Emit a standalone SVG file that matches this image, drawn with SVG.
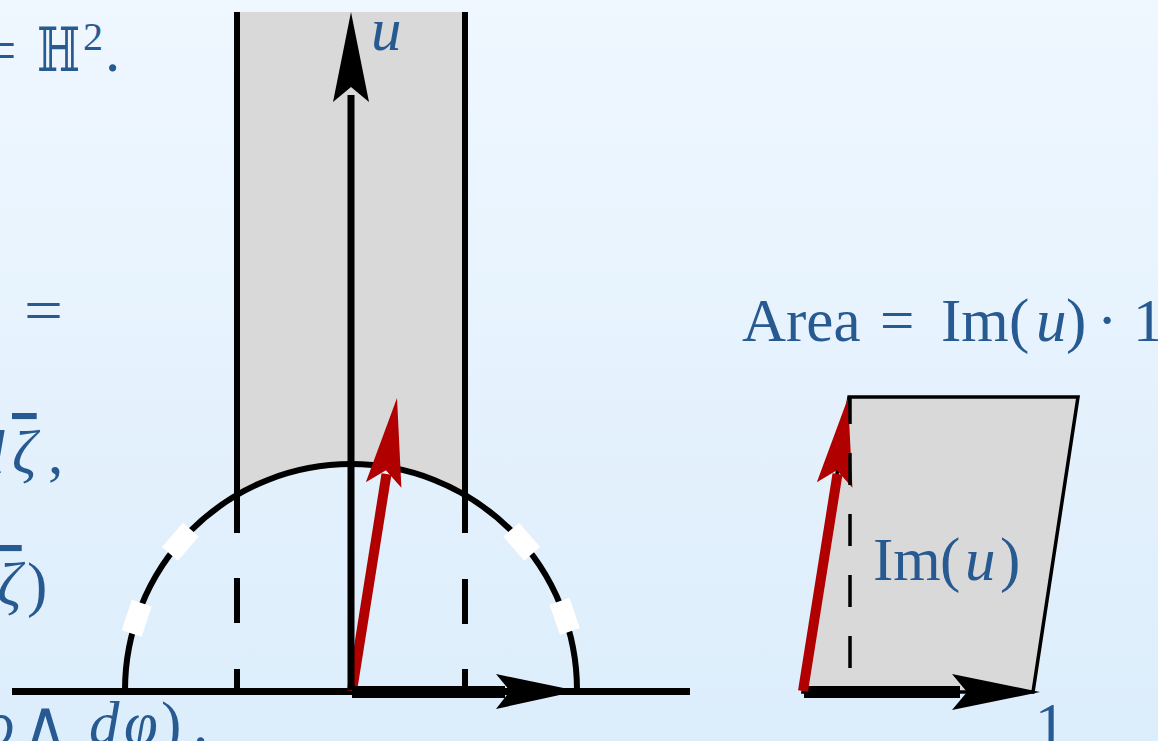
<svg xmlns="http://www.w3.org/2000/svg" width="1158" height="741" viewBox="0 0 1158 741">
<defs>
<linearGradient id="bg" x1="0" y1="0" x2="0" y2="1">
<stop offset="0" stop-color="#eff7ff"/>
<stop offset="1" stop-color="#dcedfb"/>
</linearGradient>
<style>
.t{font-family:"Liberation Serif","DejaVu Serif",serif;font-size:61px;fill:#265a91}
.i{font-style:italic}
.ov{text-decoration:overline}
.blk{stroke:#000;fill:none}
.gap{fill:#fff}
.red{fill:#b00000}
.redl{stroke:#b00000;stroke-width:10;fill:none}
</style>
</defs>
<rect width="1158" height="741" fill="url(#bg)"/>

<g id="left-text">
<text class="t" x="-22" y="71" textLength="39" lengthAdjust="spacingAndGlyphs">=</text>
<text class="t" x="37" y="71" textLength="43" lengthAdjust="spacingAndGlyphs">ℍ</text>
<text class="t" x="83" y="50" style="font-size:40px">2</text>
<text class="t" x="105" y="71">.</text>
<text class="t" x="24" y="331" textLength="39" lengthAdjust="spacingAndGlyphs">=</text>
<text class="t i" x="-26" y="473">d</text>
<text class="t i ov" x="12" y="473">ζ</text>
<text class="t" x="48" y="473">,</text>
<text class="t i ov" x="-3" y="605">ζ</text>
<text class="t" x="27" y="605">)</text>
<text class="t i" x="-15" y="744">ρ</text>
<text class="t" x="23" y="744">∧</text>
<text class="t i" x="89" y="744">d</text>
<text class="t i" x="124" y="744">φ</text>
<text class="t" x="161" y="744">)</text>
<text class="t" x="193" y="744">.</text>
</g>

<g id="strip">
<path d="M237,12 H465 V495 A226,226 0 0 0 237,495 Z" fill="#d9d9d9"/>
<path class="blk" stroke-width="6" d="M237,12 V533 M237,578 V623 M237,669 V690 M465,12 V533 M465,579 V624 M465,669 V690"/>
</g>

<g id="axis">
<path class="blk" stroke-width="7" d="M12,691.5 H690"/>
</g>

<g id="semicircle">
<path class="blk" stroke-width="6" d="M125,690 A226,226 0 0 1 577,690"/>
<rect class="gap" x="-16" y="-10.5" width="32" height="21" transform="translate(180.4,541.7) rotate(-49)"/>
<rect class="gap" x="-16" y="-10.5" width="32" height="21" transform="translate(136.7,618.3) rotate(-71.5)"/>
<rect class="gap" x="-16" y="-10.5" width="32" height="21" transform="translate(521.6,541.7) rotate(49)"/>
<rect class="gap" x="-16" y="-10.5" width="32" height="21" transform="translate(564.7,616.4) rotate(71)"/>
</g>

<g id="red-arrow-left">
<path class="redl" d="M352,691 L386.5,474"/>
<polygon class="red" points="397,398 401.4,487.7 385.9,470.2 365.85,482.25"/>
</g>

<g id="u-arrow">
<path class="blk" stroke-width="7" d="M351,690 V95"/>
<polygon points="351,12 369,102 351,87 333,102" fill="#000"/>
<text class="t i" x="371" y="50">u</text>
</g>

<g id="x-arrow-left">
<path class="blk" stroke-width="12" d="M352,692 H505"/>
<polygon points="578,691 496,674 510,691 496,709" fill="#000"/>
</g>

<g id="area-label">
<text class="t" y="341"><tspan x="742">Area</tspan><tspan x="880">=</tspan><tspan x="941">Im</tspan><tspan x="1009">(</tspan><tspan class="i" x="1036">u</tspan><tspan x="1066">)</tspan><tspan x="1097">·</tspan><tspan x="1133">1</tspan></text>
</g>

<g id="parallelogram">
<polygon points="803,692 849,397 1078,397 1033,692" fill="#d9d9d9" stroke="#000" stroke-width="3.5" stroke-linejoin="miter"/>
<text class="t" y="580"><tspan x="873">Im</tspan><tspan x="940">(</tspan><tspan class="i" x="965">u</tspan><tspan x="1000">)</tspan></text>
</g>

<g id="x-arrow-right">
<path class="blk" stroke-width="12" d="M804,692 H960"/>
<polygon points="1040,692 952,674 967,692 952,710" fill="#000"/>
<text class="t" x="1035" y="745">1</text>
</g>

<g id="red-arrow-right">
<path class="redl" d="M803,691 L837.5,474"/>
<polygon class="red" points="848,398 852.4,487.7 836.9,470.2 816.85,482.25"/>
</g>

<g id="dashed-height">
<path class="blk" stroke-width="3.5" stroke-dasharray="32 29" d="M850,668 V398"/>
</g>
</svg>
